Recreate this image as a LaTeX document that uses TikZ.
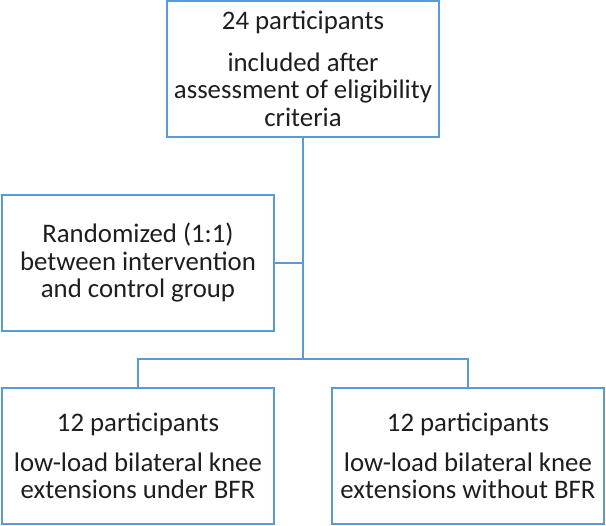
\documentclass[tikz,border=0pt]{standalone}
\usepackage{fontspec}
\setmainfont{Carlito}
\usepackage{xcolor}
\usepackage{tikz}
\usetikzlibrary{positioning}
\definecolor{boxblue}{HTML}{5B9BD5}
\definecolor{txtgray}{HTML}{1E1E1E}

\begin{document}
\begin{tikzpicture}[x=1pt,y=-1pt,font=\fontsize{26.8}{27.5}\selectfont]
    \tikzset{
      box/.style={draw=boxblue, line width=1.8pt, align=center, text=txtgray, minimum height=136pt, inner sep=0pt},
      link/.style={draw=boxblue, line width=1.8pt}
    }
    \useasboundingbox (0,0) rectangle (606,526);
    \node[box, minimum width=272pt] (incl) at (303,69) {24 participants\\[14pt]included after\\assessment of eligibility\\criteria};
    \node[box, minimum width=272pt] (rand) at (138,263) {Randomized (1:1)\\between intervention\\and control group};
    \node[box, minimum width=272pt] (bfr) at (138,456) {12 participants\\[12pt]low-load bilateral knee\\extensions under BFR};
    \node[box, minimum width=272pt] (ctrl) at (468,456) {12 participants\\[12pt]low-load bilateral knee\\extensions without BFR};
    \coordinate (split) at (incl.south |- 0,359);
    \draw[link] (incl.south) -- (split);
    \draw[link] (rand.east) -- (rand.east -| split);
    \draw[link] (bfr.north) |- (split) -| (ctrl.north);
  \end{tikzpicture}
\end{document}
